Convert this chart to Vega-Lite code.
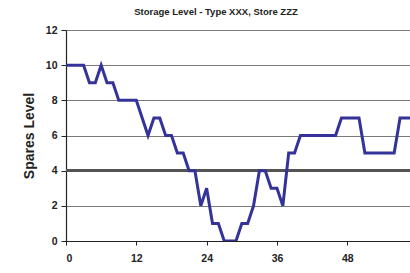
{
  "$schema": "https://vega.github.io/schema/vega-lite/v6.json",
  "width": 344,
  "height": 211,
  "autosize": {"type": "none"},
  "padding": {"left": 66, "top": 30, "right": 0, "bottom": 32},
  "background": "white",
  "title": {
    "text": "Storage Level - Type XXX, Store ZZZ",
    "font": "Liberation Sans",
    "fontSize": 9.5,
    "fontWeight": "bold",
    "color": "#222222",
    "anchor": "middle",
    "frame": "group",
    "dx": -22,
    "offset": 9
  },
  "config": {
    "view": {"stroke": null},
    "axis": {
      "labelFont": "Liberation Sans",
      "labelFontWeight": "bold",
      "labelFontSize": 10.5,
      "labelColor": "#222222",
      "titleFont": "Liberation Sans",
      "titleColor": "#222222",
      "domainColor": "#222222",
      "tickColor": "#222222"
    }
  },
  "data": {
    "values": [
      {"week": 0, "level": 10}, {"week": 1, "level": 10}, {"week": 2, "level": 10}, {"week": 3, "level": 10},
      {"week": 4, "level": 9}, {"week": 5, "level": 9}, {"week": 6, "level": 10}, {"week": 7, "level": 9},
      {"week": 8, "level": 9}, {"week": 9, "level": 8}, {"week": 10, "level": 8}, {"week": 11, "level": 8},
      {"week": 12, "level": 8}, {"week": 13, "level": 7}, {"week": 14, "level": 6}, {"week": 15, "level": 7},
      {"week": 16, "level": 7}, {"week": 17, "level": 6}, {"week": 18, "level": 6}, {"week": 19, "level": 5},
      {"week": 20, "level": 5}, {"week": 21, "level": 4}, {"week": 22, "level": 4}, {"week": 23, "level": 2},
      {"week": 24, "level": 3}, {"week": 25, "level": 1}, {"week": 26, "level": 1}, {"week": 27, "level": 0},
      {"week": 28, "level": 0}, {"week": 29, "level": 0}, {"week": 30, "level": 1}, {"week": 31, "level": 1},
      {"week": 32, "level": 2}, {"week": 33, "level": 4}, {"week": 34, "level": 4}, {"week": 35, "level": 3},
      {"week": 36, "level": 3}, {"week": 37, "level": 2}, {"week": 38, "level": 5}, {"week": 39, "level": 5},
      {"week": 40, "level": 6}, {"week": 41, "level": 6}, {"week": 42, "level": 6}, {"week": 43, "level": 6},
      {"week": 44, "level": 6}, {"week": 45, "level": 6}, {"week": 46, "level": 6}, {"week": 47, "level": 7},
      {"week": 48, "level": 7}, {"week": 49, "level": 7}, {"week": 50, "level": 7}, {"week": 51, "level": 5},
      {"week": 52, "level": 5}, {"week": 53, "level": 5}, {"week": 54, "level": 5}, {"week": 55, "level": 5},
      {"week": 56, "level": 5}, {"week": 57, "level": 7}, {"week": 58, "level": 7}, {"week": 59, "level": 7},
      {"week": 60, "level": 7}
    ]
  },
  "layer": [
    {
      "mark": {"type": "rule", "color": "#555555", "strokeWidth": 2.2},
      "encoding": {
        "y": {
          "datum": 4,
          "type": "quantitative",
          "scale": {"domain": [0, 12], "nice": false},
          "axis": {
            "values": [0, 2, 4, 6, 8, 10, 12],
            "labelOverlap": false,
            "title": "Spares Level",
            "titleFontSize": 14,
            "titleFontWeight": "bold",
            "titlePadding": 9,
            "grid": true,
            "gridColor": "#7a7a7a",
            "gridWidth": 1,
            "gridOpacity": 1,
            "tickSize": 5,
            "labelPadding": 4,
            "domainWidth": 1.2
          }
        }
      }
    },
    {
      "mark": {"type": "line", "color": "#333399", "strokeWidth": 3, "clip": true, "strokeJoin": "miter"},
      "encoding": {
        "x": {
          "field": "week",
          "type": "quantitative",
          "scale": {"domain": [0, 58.7], "nice": false, "zero": false},
          "axis": {
            "values": [0, 12, 24, 36, 48],
            "title": null,
            "grid": false,
            "tickSize": 4,
            "labelPadding": 8,
            "domainWidth": 1.2
          }
        },
        "y": {
          "field": "level",
          "type": "quantitative",
          "scale": {"domain": [0, 12], "nice": false},
          "axis": {
            "values": [0, 2, 4, 6, 8, 10, 12],
            "labelOverlap": false,
            "title": "Spares Level",
            "titleFontSize": 14,
            "titleFontWeight": "bold",
            "titlePadding": 9,
            "grid": true,
            "gridColor": "#7a7a7a",
            "gridWidth": 1,
            "gridOpacity": 1,
            "tickSize": 5,
            "labelPadding": 4,
            "domainWidth": 1.2
          }
        }
      }
    }
  ]
}
